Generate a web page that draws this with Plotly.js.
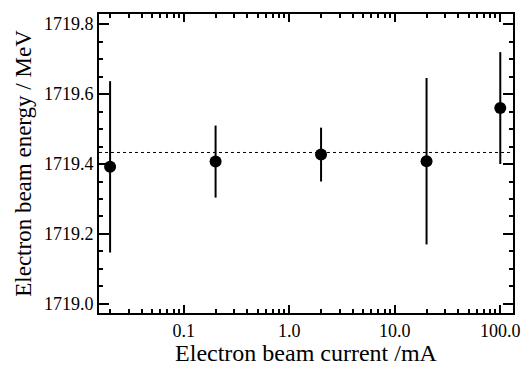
<!DOCTYPE html>
<html>
<head>
<meta charset="utf-8">
<script src="https://cdn.plot.ly/plotly-3.0.1.min.js"></script>
<style>
html,body{margin:0;padding:0;background:#fff;}
#chart text{font-family:"Liberation Serif","Times New Roman",serif !important;}
</style>
</head>
<body>
<div id="chart" style="width:530px;height:366px"></div>
<script>
// Data
const beamCurrent = [0.02, 0.2, 2, 20, 100];            // mA
const beamEnergy = [1719.392, 1719.407, 1719.427, 1719.408, 1719.560]; // MeV
const energyError = [0.245, 0.103, 0.077, 0.238, 0.160]; // MeV
const meanEnergy = 1719.433;                               // MeV (dotted line)
const xTickVals = [0.1, 1, 10, 100];
const xTickText = ['0.1', '1.0', '10.0', '100.0'];
const yTickVals = [1719.0, 1719.2, 1719.4, 1719.6, 1719.8];
const yTickText = ['1719.0', '1719.2', '1719.4', '1719.6', '1719.8'];

const serif = 'Liberation Serif';

const trace = {
  x: beamCurrent,
  y: beamEnergy,
  type: 'scatter',
  mode: 'markers',
  marker: {color: '#000', size: 12},
  error_y: {type: 'data', array: energyError, visible: true, width: 0, thickness: 2, color: '#000'},
  showlegend: false,
  cliponaxis: false
};

const layout = {
  width: 530,
  height: 366,
  margin: {l: 99, r: 17, t: 14, b: 53},
  paper_bgcolor: '#fff',
  plot_bgcolor: '#fff',
  font: {family: serif, color: '#000', size: 18},
  xaxis: {
    type: 'log',
    range: [Math.log10(0.0157), Math.log10(132)],
    tickvals: xTickVals,
    ticktext: xTickText,
    ticks: 'inside',
    ticklen: 8,
    tickwidth: 1.5,
    tickcolor: '#000',
    minor: {ticks: 'inside', ticklen: 4, tickwidth: 1.5, tickcolor: '#000', dtick: 'D1', showgrid: false},
    showline: true,
    linewidth: 2,
    linecolor: '#000',
    mirror: 'ticks',
    showgrid: false,
    zeroline: false,
    tickfont: {family: serif, size: 18, color: '#000'},
    title: {text: 'Electron beam current /mA', font: {family: serif, size: 24, color: '#000'}, standoff: 1}
  },
  yaxis: {
    range: [1718.974, 1719.829],
    tickvals: yTickVals,
    ticktext: yTickText,
    ticks: 'inside',
    ticklen: 10,
    tickwidth: 1.5,
    tickcolor: '#000',
    minor: {ticks: 'inside', ticklen: 4, tickwidth: 1.5, tickcolor: '#000', dtick: 0.05, showgrid: false},
    showline: true,
    linewidth: 2,
    linecolor: '#000',
    mirror: 'ticks',
    showgrid: false,
    zeroline: false,
    tickfont: {family: serif, size: 18, color: '#000'},
    title: {text: 'Electron beam energy / MeV', font: {family: serif, size: 23, color: '#000'}, standoff: 6}
  },
  shapes: [{
    type: 'line', xref: 'paper', x0: 0, x1: 1, yref: 'y', y0: meanEnergy, y1: meanEnergy,
    line: {color: '#000', width: 1, dash: 'dot'}
  }]
};

Plotly.newPlot('chart', [trace], layout, {displayModeBar: false});
</script>
</body>
</html>
